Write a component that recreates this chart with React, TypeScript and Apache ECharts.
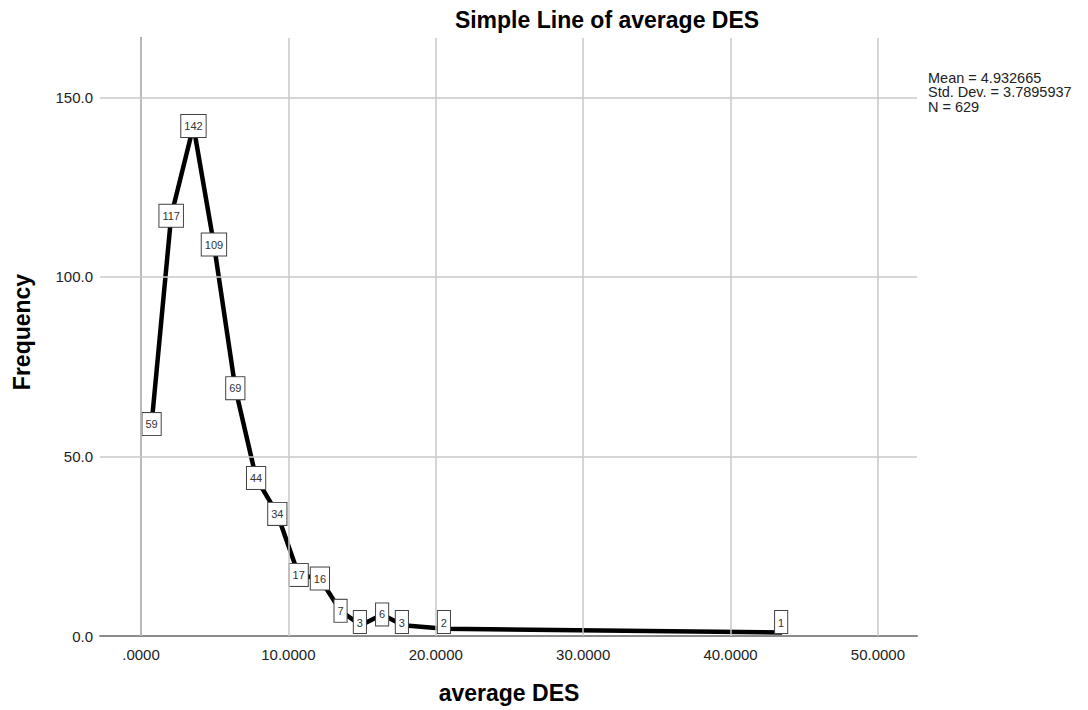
import React, { useEffect, useRef } from "react";
import * as echarts from "echarts";

const binCenters: number[] = [0.72, 2.05, 3.56, 4.95, 6.4, 7.81, 9.25, 10.7, 12.14, 13.54, 14.92, 16.36, 17.77, 20.62, 43.5];
const frequencies: number[] = [59, 117, 142, 109, 69, 44, 34, 17, 16, 7, 3, 6, 3, 2, 1];
const xTicks: number[] = [0, 10, 20, 30, 40, 50];
const yTicks: number[] = [0, 50, 100, 150];
const statsLines: string[] = ["Mean = 4.932665", "Std. Dev. = 3.7895937", "N = 629"];
const titleText = "Simple Line of average DES";
const xName = "average DES";
const yName = "Frequency";

const FONT = "Arial, 'Liberation Sans', Helvetica, sans-serif";

export default function App() {
  const ref = useRef<HTMLDivElement>(null);
  useEffect(() => {
    if (!ref.current) return;
    const chart = echarts.init(ref.current, undefined, { renderer: "svg" });
    const gridBottomY = 636;
    const option: any = {
      animation: false,
      backgroundColor: "#ffffff",
      textStyle: { fontFamily: FONT },
      grid: { left: 100, top: 38, right: 171, bottom: 74, containLabel: false },
      xAxis: {
        type: "value",
        min: -2.78,
        max: 52.65,
        axisLine: { show: true, lineStyle: { color: "#8c8c8c", width: 2 } },
        axisTick: { show: false, customValues: xTicks },
        splitLine: { show: false },
        axisLabel: {
          customValues: xTicks,
          formatter: (v: number) => (v === 0 ? ".0000" : v.toFixed(4)),
          color: "#222",
          fontSize: 15,
          fontFamily: FONT,
          margin: 11,
        },
      },
      yAxis: {
        type: "value",
        min: 0,
        max: 166.5,
        axisLine: { show: true, lineStyle: { color: "#8c8c8c", width: 2 } },
        axisTick: { show: false, customValues: yTicks },
        splitLine: { show: false },
        axisLabel: {
          customValues: yTicks,
          formatter: (v: number) => v.toFixed(1),
          color: "#222",
          fontSize: 15,
          fontFamily: FONT,
          margin: 7,
        },
      },
      series: [
        {
          type: "line",
          data: [],
          z: 1,
          silent: true,
          markLine: {
            silent: true,
            symbol: ["none", "none"],
            label: { show: false },
            lineStyle: { type: "solid", color: "#c8c8c8", width: 1.5 },
            data: [
              ...xTicks.map((v) => ({ xAxis: v })),
              ...yTicks.filter((v) => v > 0).map((v) => ({ yAxis: v })),
            ],
          },
        },
        {
          type: "line",
          z: 3,
          data: binCenters.map((x, i) => [x, frequencies[i]]),
          showSymbol: true,
          symbol: "circle",
          symbolSize: 1,
          itemStyle: { color: "#000" },
          lineStyle: { color: "#000", width: 4.5 },
          label: {
            show: true,
            position: "inside",
            formatter: (p: any) => String(p.value[1]),
            fontSize: 11,
            fontFamily: FONT,
            color: "#333",
            backgroundColor: "#fff",
            borderColor: "#444",
            borderWidth: 1,
            padding: [5, 3, 4, 3],
            lineHeight: 13,
          },
          labelLayout: (p: any) => {
            const r = p.labelRect;
            if (r && r.y + r.height > gridBottomY - 1) {
              return {
                x: r.x,
                y: gridBottomY - 1 - r.height,
                align: "left",
                verticalAlign: "top",
              };
            }
            return {};
          },
        },
      ],
      graphic: [
        {
          type: "text",
          x: 607,
          y: 20,
          style: {
            text: titleText,
            align: "center",
            verticalAlign: "middle",
            font: `bold 23px ${FONT}`,
            fill: "#000",
          },
        },
        {
          type: "text",
          x: 509,
          y: 693,
          style: {
            text: xName,
            align: "center",
            verticalAlign: "middle",
            font: `bold 23px ${FONT}`,
            fill: "#000",
          },
        },
        {
          type: "text",
          x: 22,
          y: 332,
          rotation: Math.PI / 2,
          style: {
            text: yName,
            align: "center",
            verticalAlign: "middle",
            font: `bold 23px ${FONT}`,
            fill: "#000",
          },
        },
        ...statsLines.map((s, i) => ({
          type: "text",
          x: 928,
          y: 70 + i * 14.5,
          style: {
            text: s,
            align: "left",
            verticalAlign: "top",
            font: `14.5px ${FONT}`,
            fill: "#222",
          },
        })),
      ],
    };
    chart.setOption(option);
    return () => chart.dispose();
  }, []);
  return (
    <div
      ref={ref}
      style={{ position: "absolute", left: 0, top: 0, width: 1088, height: 710 }}
    />
  );
}
